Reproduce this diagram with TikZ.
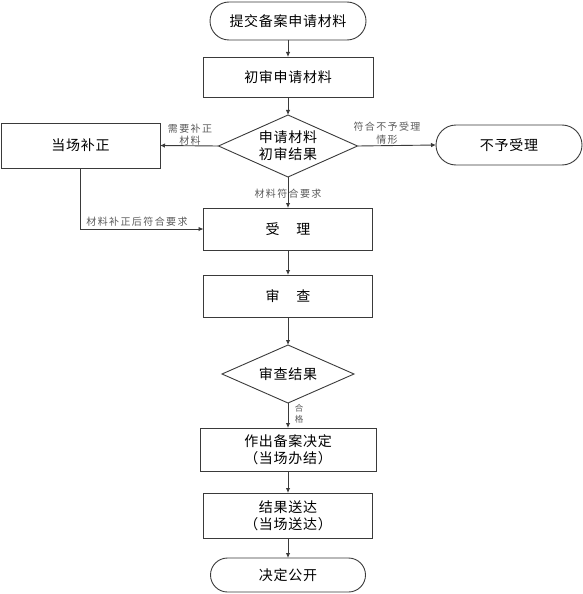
\documentclass[tikz,border=0pt]{standalone}
\usepackage{fontspec}
\usetikzlibrary{shapes.geometric,arrows.meta}
\newfontfamily\cjk[LetterSpace=5]{Noto Sans CJK SC}
\newfontfamily\labf[LetterSpace=14]{Noto Sans CJK SC}
\definecolor{linec}{HTML}{3A3A3A}
\definecolor{labc}{HTML}{5A5A5A}
\begin{document}
\begin{tikzpicture}[x=1pt,y=-1pt,
  every node/.style={inner sep=0pt,outer sep=0pt},
  box/.style={draw=linec,line width=0.9pt,rectangle,font=\cjk\fontsize{14}{17}\selectfont,align=center},
  term/.style={box,rounded corners=17pt},
  dec/.style={draw=linec,line width=0.9pt,diamond,font=\cjk\fontsize{14}{17}\selectfont,align=center},
  lab/.style={font=\labf\fontsize{10}{12.5}\selectfont,text=labc,align=center},
  arr/.style={draw=linec,line width=0.9pt,-{Latex[length=5pt,width=4.5pt]}}]
\useasboundingbox (0,0) rectangle (583,594);
\node[term,minimum width=156pt,minimum height=38pt,rounded corners=19pt] (start) at (288,21) {提交备案申请材料};
\node[box,minimum width=170pt,minimum height=40pt] (b1) at (288,77) {初审申请材料};
\node[dec,minimum width=139pt,minimum height=62pt,aspect=2.24] (d1) at (288,146) {申请材料\\初审结果};
\node[box,minimum width=159pt,minimum height=45pt] (left) at (80.5,145.5) {当场补正};
\node[term,minimum width=146pt,minimum height=40pt,rounded corners=20pt] (right) at (509,145) {不予受理};
\node[box,minimum width=169pt,minimum height=42pt] (b2) at (288,229) {受\hspace{1.2em}理};
\node[box,minimum width=169pt,minimum height=42pt] (b3) at (288,296) {审\hspace{1.2em}查};
\node[dec,minimum width=132pt,minimum height=58pt,aspect=2.28] (d2) at (288,374) {审查结果};
\node[box,minimum width=176pt,minimum height=43pt] (b4) at (288,449.5) {作出备案决定\\（当场办结）};
\node[box,minimum width=169pt,minimum height=45pt] (b5) at (288,515.5) {结果送达\\（当场送达）};
\node[term,minimum width=155pt,minimum height=34pt] (end) at (288,575) {决定公开};
\node[lab] (l1) at (190,134.5) {需要补正\\材料};
\node[lab] (l2) at (387,133) {符合不予受理\\情形};
\node[lab] (l3) at (288,194) {材料符合要求};
\node[lab] (l4) at (137,222) {材料补正后符合要求};
\node[lab,font=\labf\fontsize{8.5}{11}\selectfont] (l5) at (299,413.5) {合\\格};
\draw[arr] (start) -- (b1);
\draw[arr] (b1) -- (d1);
\draw[arr] (d1.west) -- (left.east);
\draw[arr] (d1.east) -- (right.west);
\draw[arr] (d1) -- (b2);
\draw[arr] (left.south) |- (b2.west);
\draw[arr] (b2) -- (b3);
\draw[arr] (b3) -- (d2);
\draw[arr] (d2) -- (b4);
\draw[arr] (b4) -- (b5);
\draw[arr] (b5) -- (end);
\end{tikzpicture}
\end{document}
